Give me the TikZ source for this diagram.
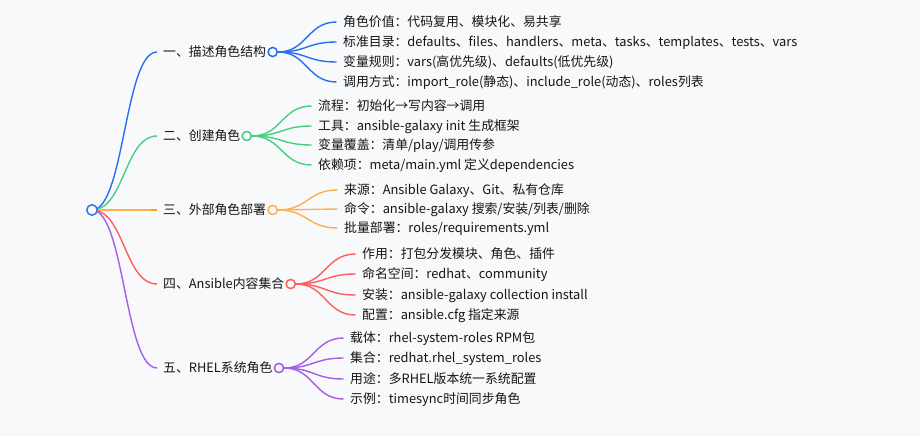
\documentclass[tikz,border=0pt]{standalone}
\usepackage{fontspec}
\setmainfont{Noto Sans CJK SC}
\usetikzlibrary{calc}
\definecolor{bg}{HTML}{F8F9FB}
\definecolor{cblue}{HTML}{2B6FF0}
\definecolor{cgreen}{HTML}{48D07F}
\definecolor{corange}{HTML}{FFB04C}
\definecolor{corangedark}{HTML}{FF9A1A}
\definecolor{cred}{HTML}{FF5E5E}
\definecolor{cpurple}{HTML}{A35FE6}
\definecolor{ctext}{HTML}{151515}
\newcommand{\branch}[3]{%
  \path (#2) -- coordinate[pos=0.5] (mid) (#3);
  \draw[edge,#1] (#2) .. controls (mid |- #2) and (mid |- #3) .. (#3);}
\begin{document}
\begin{tikzpicture}[x=1pt,y=-1pt,
  edge/.style={line width=1.4pt},
  lbl/.style={anchor=west,inner sep=0pt,text height=9.5pt,text depth=0pt,
    font=\fontsize{12.85}{15}\selectfont,text=ctext},
  dot/.style={circle,draw,line width=1.4pt,fill=bg,inner sep=0pt,minimum size=9pt},
  rootdot/.style={circle,draw=cblue,line width=1.4pt,fill=bg,inner sep=0pt,minimum size=10.5pt}]
\fill[bg] (0,0) rectangle (920,436);
\useasboundingbox (0,0) rectangle (920,436);

% level 1 labels
\node[lbl] (t1) at (163,52) {一、描述角色结构};
\node[lbl] (t2) at (163,136) {二、创建角色};
\node[lbl] (t3) at (163,210) {三、外部角色部署};
\node[lbl] (t4) at (163,284) {四、Ansible内容集合};
\node[lbl] (t5) at (163,368) {五、RHEL系统角色};
\foreach \i/\y in {1/52,2/136,3/210,4/284,5/368}{\coordinate (e\i) at (157,\y);}

% level 2 labels
\node[lbl] (a1) at (343,22) {角色价值：代码复用、模块化、易共享};
\node[lbl] (a2) at (343,42) {标准目录：defaults、files、handlers、meta、tasks、templates、tests、vars};
\node[lbl] (a3) at (343,62) {变量规则：vars(高优先级)、defaults(低优先级)};
\node[lbl] (a4) at (343,82) {调用方式：import\_role(静态)、include\_role(动态)、roles列表};

\node[lbl] (b1) at (318,106) {流程：初始化→写内容→调用};
\node[lbl] (b2) at (318,126) {工具：ansible-galaxy init 生成框架};
\node[lbl] (b3) at (318,145) {变量覆盖：清单/play/调用传参};
\node[lbl] (b4) at (318,165) {依赖项：meta/main.yml 定义dependencies};

\node[lbl] (c1) at (344,190) {来源：Ansible Galaxy、Git、私有仓库};
\node[lbl] (c2) at (344,209) {命令：ansible-galaxy 搜索/安装/列表/删除};
\node[lbl] (c3) at (344,228) {批量部署：roles/requirements.yml};

\node[lbl] (d1) at (362,254) {作用：打包分发模块、角色、插件};
\node[lbl] (d2) at (362,274) {命名空间：redhat、community};
\node[lbl] (d3) at (362,295) {安装：ansible-galaxy collection install};
\node[lbl] (d4) at (362,315) {配置：ansible.cfg 指定来源};

\node[lbl] (f1) at (350,338) {载体：rhel-system-roles RPM包};
\node[lbl] (f2) at (350,358) {集合：redhat.rhel\_system\_roles};
\node[lbl] (f3) at (350,379) {用途：多RHEL版本统一系统配置};
\node[lbl] (f4) at (350,399) {示例：timesync时间同步角色};

\foreach \n in {a1,a2,a3,a4,b1,b2,b3,b4,c1,c2,c3,d1,d2,d3,d4,f1,f2,f3,f4}{
  \coordinate (\n e) at ($(\n.west)+(-6.5,0)$);}

% root edges
\coordinate (r) at (92,210);
\branch{cblue}{r}{e1}
\branch{cgreen}{r}{e2}
\draw[edge,corange] (r) -- (e3);
\draw[edge,corangedark] ($(e3)+(-6,0)$) -- (e3);
\branch{cred}{r}{e4}
\branch{cpurple}{r}{e5}

% level-1 circles
\node[dot,draw=cblue] (p1) at (272.7,52) {};
\node[dot,draw=cgreen] (p2) at (246.7,136) {};
\node[dot,draw=corange] (p3) at (272.7,210) {};
\node[dot,draw=cred] (p4) at (290.7,284) {};
\node[dot,draw=cpurple] (p5) at (279,368) {};

% level-2 edges
\foreach \n in {a1,a2,a3,a4}{\branch{cblue}{p1.east}{\n e}}
\foreach \n in {b1,b2,b3,b4}{\branch{cgreen}{p2.east}{\n e}}
\foreach \n in {c1,c2,c3}{\branch{corange}{p3.east}{\n e}}
\foreach \n in {d1,d2,d3,d4}{\branch{cred}{p4.east}{\n e}}
\foreach \n in {f1,f2,f3,f4}{\branch{cpurple}{p5.east}{\n e}}

% redraw circles on top
\node[dot,draw=cblue] at (p1) {};
\node[dot,draw=cgreen] at (p2) {};
\node[dot,draw=corange] at (p3) {};
\node[dot,draw=cred] at (p4) {};
\node[dot,draw=cpurple] at (p5) {};
\node[rootdot] (root) at (r) {};
\end{tikzpicture}
\end{document}
